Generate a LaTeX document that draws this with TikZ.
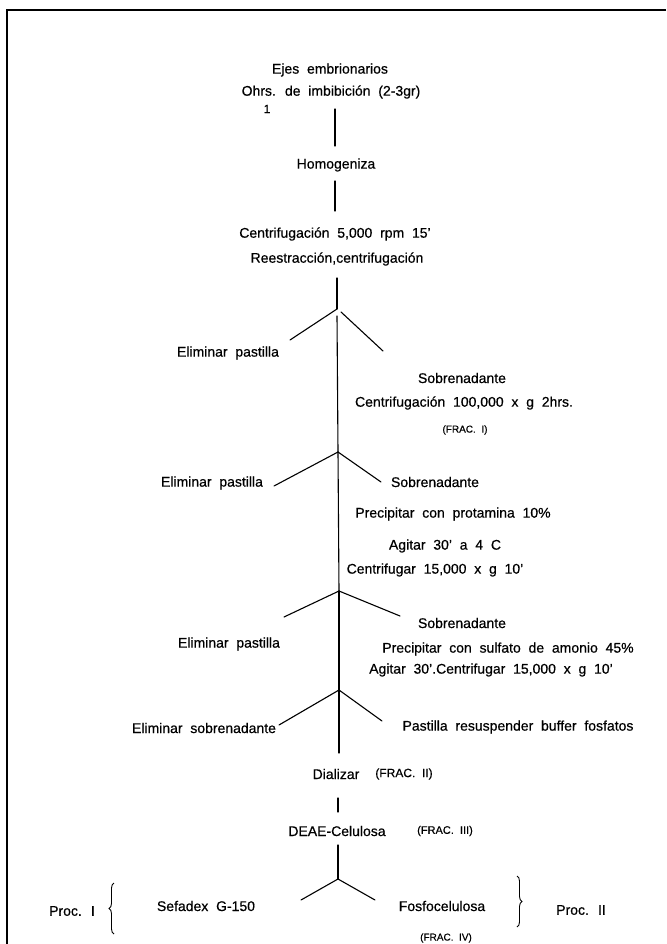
\documentclass[tikz,border=0pt]{standalone}
\usepackage{fontspec}
\setmainfont{Liberation Sans}[WordSpace=2, FakeBold=0.5]
\usetikzlibrary{decorations.pathreplacing}
\begin{document}
\begin{tikzpicture}[x=1pt,y=-1pt,
  txt/.style={font=\fontsize{14}{16}\selectfont, inner sep=0pt, anchor=center},
  sm/.style={font=\fontsize{10}{12}\selectfont, inner sep=0pt, anchor=center},
  ln/.style={line width=1.1pt, line cap=round},
  brc/.style={line width=0.9pt, decorate, decoration={brace, amplitude=5pt}}]
\useasboundingbox (0,0) rectangle (666,944);
\fill[white] (0,0) rectangle (666,944);
% frame
\coordinate (fa) at (666,10);
\coordinate (fb) at (7,10);
\coordinate (fc) at (7,944);
\draw[line width=1.3pt] (fa) -- (fb) -- (fc);

% texts
\node[txt] (ejes) at (330,70) {Ejes embrionarios};
\node[txt] (ohrs) at (331,92) {Ohrs. de imbibición (2-3gr)};
\node[sm, font=\fontsize{12}{14}\selectfont] (one) at (267,109) {1};
\node[txt] (homog) at (336,165) {Homogeniza};
\node[txt] (cent1) at (335,234) {Centrifugación 5,000 rpm 15'};
\node[txt] (reest) at (337,259) {Reestracción,centrifugación};
\node[txt] (elim1) at (228,353) {Eliminar pastilla};
\node[txt] (sob1) at (462,378) {Sobrenadante};
\node[txt] (cent2) at (464,403) {Centrifugación 100,000 x g 2hrs.};
\node[sm] (frac1) at (465,430) {(FRAC. I)};
\node[txt] (elim2) at (212,483) {Eliminar pastilla};
\node[txt] (sob2) at (435,482) {Sobrenadante};
\node[txt] (prec1) at (453,514) {Precipitar con protamina 10\%};
\node[txt] (agit1) at (445,546) {Agitar 30' a 4 C};
\node[txt] (centf1) at (435,570) {Centrifugar 15,000 x g 10'};
\node[txt] (sob3) at (462,623) {Sobrenadante};
\node[txt] (elim3) at (229,644) {Eliminar pastilla};
\node[txt] (prec2) at (508,649) {Precipitar con sulfato de amonio 45\%};
\node[txt] (agit2) at (491,670) {Agitar 30'.Centrifugar 15,000 x g 10'};
\node[txt] (elimsob) at (204,728) {Eliminar sobrenadante};
\node[txt] (pastres) at (518,727) {Pastilla resuspender buffer fosfatos};
\node[txt] (dial) at (336,774) {Dializar};
\node[sm, font=\fontsize{12}{14}\selectfont] (frac2) at (404,774) {(FRAC. II)};
\node[txt] (deae) at (337,831) {DEAE-Celulosa};
\node[sm, font=\fontsize{11}{13}\selectfont] (frac3) at (445,831) {(FRAC. III)};
\node[txt] (sefa) at (206,906) {Sefadex G-150};
\node[txt] (fosfo) at (442,906) {Fosfocelulosa};
\node[sm] (frac4) at (446,938) {(FRAC. IV)};
\node[txt] (proc1) at (72,911) {Proc. I};
\node[txt] (proc2) at (581,910) {Proc. II};

% line coordinates
\coordinate (v1a) at (335,109); \coordinate (v1b) at (335,146);
\coordinate (v2a) at (335,181); \coordinate (v2b) at (335,211);
\coordinate (v3a) at (337,278); \coordinate (b1) at (337,309);
\coordinate (b1l) at (290,340); \coordinate (b1r0) at (341,312); \coordinate (b1r) at (383,351);
\coordinate (v4a) at (337,316); \coordinate (b2) at (338,452);
\coordinate (b2l) at (274,486); \coordinate (b2r) at (381,482);
\coordinate (b3) at (339,591);
\coordinate (b3l) at (284,617); \coordinate (b3r) at (400,616);
\coordinate (b4) at (339,690);
\coordinate (b4l) at (279,725); \coordinate (b4r) at (382,721);
\coordinate (v6b) at (339,753);
\coordinate (v7a) at (338,798); \coordinate (v7b) at (338,812);
\coordinate (v8a) at (338,845); \coordinate (b5) at (338,879);
\coordinate (b5l) at (301,900); \coordinate (b5r) at (375,900);

\draw[ln] (v1a) -- (v1b);
\draw[ln] (v2a) -- (v2b);
\draw[ln] (v3a) -- (b1);
\draw[ln] (b1) -- (b1l);
\draw[ln] (b1r0) -- (b1r);
\draw[ln] (v4a) -- (b2);
\draw[ln] (b2) -- (b2l);
\draw[ln] (b2) -- (b2r);
\draw[ln] (b2) -- (b3);
\draw[ln] (b3) -- (b3l);
\draw[ln] (b3) -- (b3r);
\draw[ln] (b3) -- (b4);
\draw[ln] (b4) -- (b4l);
\draw[ln] (b4) -- (b4r);
\draw[ln] (b4) -- (v6b);
\draw[ln] (v7a) -- (v7b);
\draw[ln] (v8a) -- (b5);
\draw[ln] (b5) -- (b5l);
\draw[ln] (b5) -- (b5r);

% braces
\coordinate (lb1) at (114,934); \coordinate (lb2) at (114,883);
\coordinate (rb1) at (517,876); \coordinate (rb2) at (517,927);
\draw[brc] (lb1) -- (lb2);
\draw[brc] (rb1) -- (rb2);
\end{tikzpicture}
\end{document}
